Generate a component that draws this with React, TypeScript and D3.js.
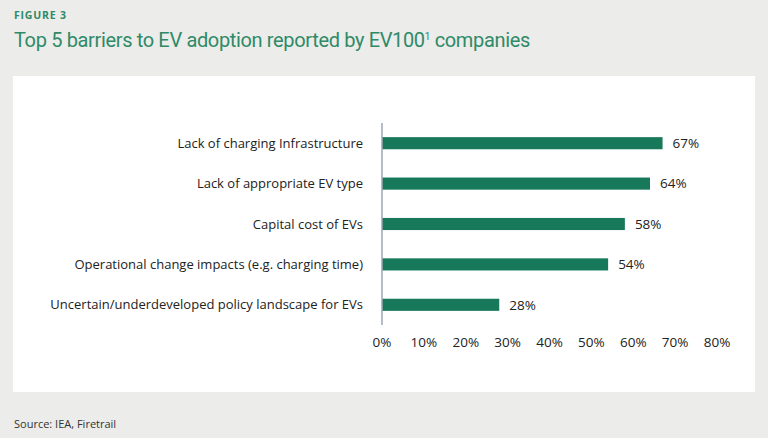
import React from 'react';
import * as d3 from 'd3';

const barriers = [
  'Lack of charging Infrastructure',
  'Lack of appropriate EV type',
  'Capital cost of EVs',
  'Operational change impacts (e.g. charging time)',
  'Uncertain/underdeveloped policy landscape for EVs',
];
const shares = [67, 64, 58, 54, 28];
const xTicks = [0, 10, 20, 30, 40, 50, 60, 70, 80];

const W = 768;
const H = 438;
const font = "'Open Sans', 'Noto Sans', sans-serif";

export default function App() {
  const x = d3.scaleLinear().domain([0, 80]).range([382, 717]);
  const y = d3.scaleBand<string>().domain(barriers).range([123, 325]).paddingInner(0.7).paddingOuter(0.35);

  return (
    <svg width={W} height={H} style={{ position: 'absolute', left: 0, top: 0 }} fontFamily={font}>
      <rect width={W} height={H} fill="#ececea" />
      <text x={14} y={19} fontSize={10.5} fontWeight={700} fill="#2f8a68" letterSpacing={0.8}>FIGURE 3</text>
      <text x={14} y={47} fontSize={20} fill="#2f8a68" fontFamily="Roboto, sans-serif" letterSpacing={-0.35}>
        Top 5 barriers to EV adoption reported by EV100
        <tspan fontSize={10} dy={-7}>1</tspan>
        <tspan dy={7}> companies</tspan>
      </text>
      <rect x={13} y={76} width={742} height={316} fill="#ffffff" />

      {barriers.map((b, i) => (
        <g key={b}>
          <rect x={x(0)} y={y(b)!} width={x(shares[i]) - x(0)} height={y.bandwidth()} fill="#17795a" />
          <text x={x(shares[i]) + 10} y={y(b)! + y.bandwidth() / 2} dy="0.36em" fontSize={13.5} fill="#222">
            {shares[i]}%
          </text>
          <text x={363} y={y(b)! + y.bandwidth() / 2} dy="0.36em" fontSize={13} fill="#222" textAnchor="end">
            {b}
          </text>
        </g>
      ))}

      <line x1={x(0)} x2={x(0)} y1={123} y2={325} stroke="#9aa6b4" strokeWidth={1.5} />

      {xTicks.map(t => (
        <text key={t} x={x(t)} y={347} fontSize={13.5} fill="#222" textAnchor="middle">{t}%</text>
      ))}

      <text x={14} y={428} fontSize={11} fill="#333">Source: IEA, Firetrail</text>
    </svg>
  );
}
